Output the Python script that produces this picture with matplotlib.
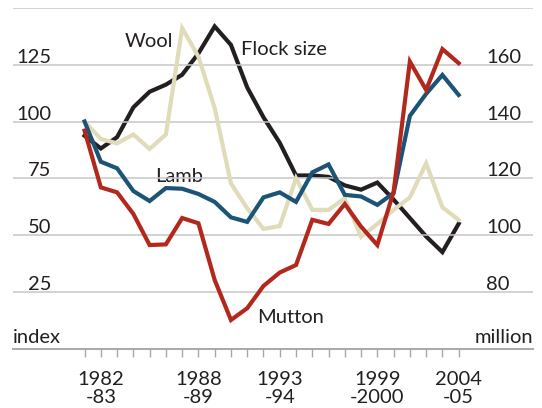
import matplotlib
matplotlib.use("Agg")
import matplotlib.pyplot as plt
import matplotlib.transforms as mtransforms

plt.rcParams["font.family"] = ["Lato", "DejaVu Sans"]

# Season start years (1981-82 ... 2004-05)
years = list(range(1981, 2005))

# Index series (left axis)
wool = [100.0, 92.3, 90.4, 94.3, 87.9, 94.3, 141.1, 128.6, 105.9, 72.7, 61.8, 52.7,
        54.0, 75.0, 61.1, 61.1, 66.2, 49.2, 54.9, 61.1, 66.6, 81.6, 62.2, 56.7]
lamb = [100.0, 82.3, 79.4, 69.4, 65.0, 70.7, 70.4, 68.1, 64.6, 57.8, 55.8, 66.6,
        68.8, 64.6, 77.6, 81.1, 67.7, 67.0, 63.3, 68.5, 102.5, 112.2, 120.5, 111.7]
mutton = [96.0, 71.0, 68.8, 59.3, 45.6, 45.9, 57.5, 55.2, 30.2, 12.6, 17.8, 27.6,
          33.5, 36.8, 56.7, 54.9, 63.7, 53.7, 45.6, 69.1, 126.4, 113.9, 131.9, 125.7]

# Flock size, million (right axis)
flock = [135, 130.5, 134.5, 145, 150.5, 153, 156.5, 164, 173.5, 167, 152, 141.5,
         132.5, 121, 121, 120.5, 117.5, 116, 118.5, 112.5, 106, 99.5, 94, 104]

left_ticks = [25, 50, 75, 100, 125]
right_ticks = [80, 100, 120, 140, 160]
label_years = {1982: "1982\n-83", 1988: "1988\n-89", 1993: "1993\n-94",
               1999: "1999\n-2000", 2004: "2004\n-05"}

c_black = "#231f20"
c_wool = "#e0dbb9"
c_lamb = "#1c5478"
c_mutton = "#b3281d"
c_grid = "#c6c6c6"
fs = 14.5

fig = plt.figure(figsize=(5.42, 4.08), dpi=100)
ax = fig.add_axes([13 / 542, 1 - 348.6 / 408, 520 / 542, 340.6 / 408])
ax2 = ax.twinx()
ax2.set_zorder(0)
ax.set_zorder(1)
ax.patch.set_visible(False)

ax.set_xlim(1976.6, 2008.57)
ax.set_ylim(0, 150)
ax2.set_ylim(60, 180)

ax.set_yticks([25, 50, 75, 100, 125, 150])
ax.yaxis.grid(True, color=c_grid, linewidth=1.1, zorder=0)
ax.tick_params(axis="y", left=False, labelleft=False)
ax2.tick_params(axis="y", right=False, labelright=False)
ax2.set_yticks([])

for a in (ax, ax2):
    for s in ("top", "left", "right", "bottom"):
        a.spines[s].set_visible(False)
ax.spines["bottom"].set_visible(True)
ax.spines["bottom"].set_color("#a8a8a8")
ax.spines["bottom"].set_linewidth(1.4)

ax.set_xticks(years)
ax.set_xticklabels([label_years.get(y, "") for y in years], fontsize=fs,
                   color="#231f20", linespacing=1.05)
ax.tick_params(axis="x", length=6, width=1, color="#a8a8a8", pad=10)

lw = 3.0
ax2.plot(years, flock, color=c_black, lw=lw, solid_joinstyle="miter", zorder=3)
ax.plot(years, wool, color=c_wool, lw=lw, solid_joinstyle="miter", zorder=2)
ax.plot(years, lamb, color=c_lamb, lw=lw, solid_joinstyle="miter", zorder=3)
ax.plot(years, mutton, color=c_mutton, lw=lw, solid_joinstyle="miter", zorder=4)

# axis value labels sitting on the gridlines
up = mtransforms.offset_copy(ax.get_yaxis_transform(), fig=fig, x=0, y=2, units="dots")
for v in left_ticks:
    ax.text(0.0744, v, str(v), transform=up, ha="right", va="baseline",
            fontsize=fs, color="#231f20")
up2 = mtransforms.offset_copy(ax2.get_yaxis_transform(), fig=fig, x=0, y=2, units="dots")
for v in right_ticks:
    ax2.text(0.9096, v, str(v), transform=up2, ha="left", va="baseline",
             fontsize=fs, color="#231f20")

ax.text(0.0, 2.5, "index", transform=ax.get_yaxis_transform(), ha="left",
        va="baseline", fontsize=fs, color="#231f20")
ax.text(1.0, 2.5, "million", transform=ax.get_yaxis_transform(), ha="right",
        va="baseline", fontsize=fs, color="#231f20")

# series labels
ax.text(1983.49, 133.0, "Wool", fontsize=fs, va="baseline", color="#231f20")
ax.text(1990.6, 129.3, "Flock size", fontsize=fs, va="baseline", color="#231f20")
ax.text(1985.33, 73.5, "Lamb", fontsize=fs, va="baseline", color="#231f20", zorder=1,
        bbox=dict(facecolor="white", edgecolor="none", pad=2.5))
ax.text(1991.58, 11.3, "Mutton", fontsize=fs, va="baseline", color="#231f20")

fig.savefig("out.png", dpi=100)
